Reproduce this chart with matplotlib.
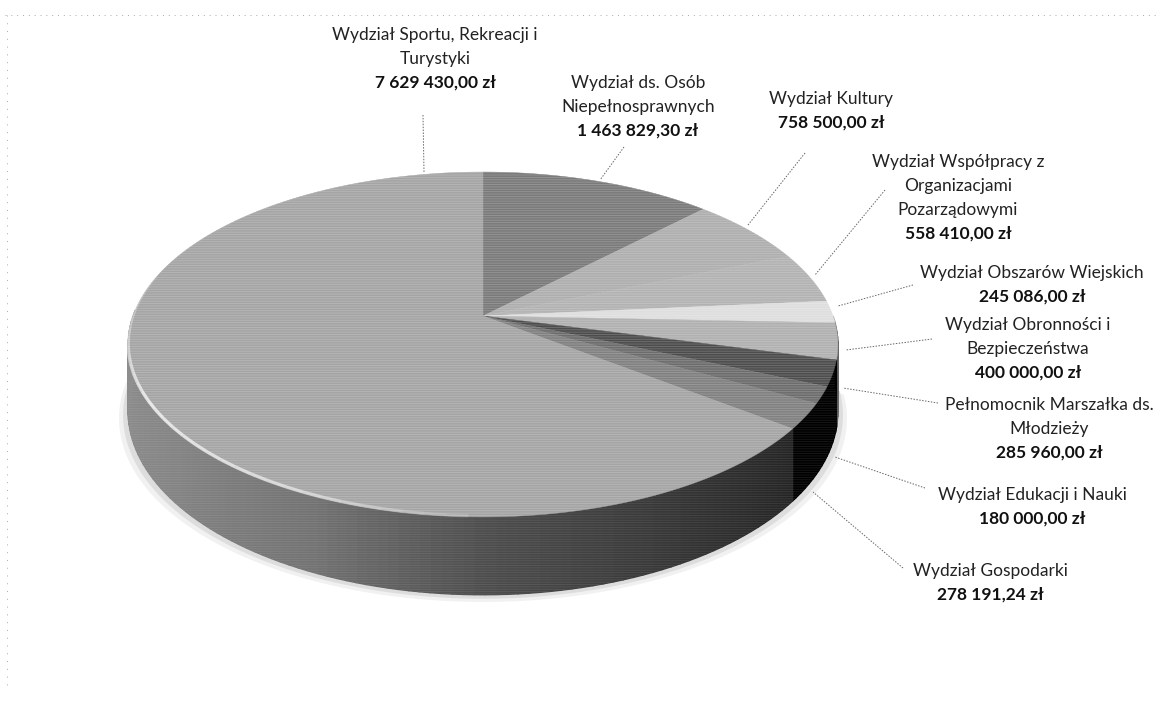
import numpy as np
import matplotlib
matplotlib.use("Agg")
import matplotlib.pyplot as plt
from matplotlib.patches import Polygon

NAMES = [
    "Wydział ds. Osób\nNiepełnosprawnych",
    "Wydział Kultury",
    "Wydział Współpracy z\nOrganizacjami\nPozarządowymi",
    "Wydział Obszarów Wiejskich",
    "Wydział Obronności i\nBezpieczeństwa",
    "Pełnomocnik Marszałka ds.\nMłodzieży",
    "Wydział Edukacji i Nauki",
    "Wydział Gospodarki",
    "Wydział Sportu, Rekreacji i\nTurystyki",
]
VALUES = [1463829.30, 758500.00, 558410.00, 245086.00, 400000.00,
          285960.00, 180000.00, 278191.24, 7629430.00]
AMOUNTS = ["1 463 829,30 zł", "758 500,00 zł", "558 410,00 zł", "245 086,00 zł",
           "400 000,00 zł", "285 960,00 zł", "180 000,00 zł", "278 191,24 zł",
           "7 629 430,00 zł"]
TOP_COLORS = ["#7a7a7a", "#aeaeae", "#b2b2b2", "#dedede", "#b0b0b0",
              "#4c4c4c", "#6c6c6c", "#808080", "#a4a4a4"]
SIDE_COLORS = ["#555555", "#777777", "#777777", "#999999", "#666666",
               "#000000", "#000000", "#000000", None]

# środek etykiety (x), górna linia (y), koniec linii odniesienia
LABEL_XY = [(638, 83), (831, 99), (958, 162), (1032, 273), (1028, 325),
            (1049, 405), (1032, 495), (990, 571), (435, 35)]
LEADERS = [((624, 147), (600, 180)), ((805, 153), (748, 225)), ((885, 190), (815, 275)),
           ((913, 285), (838, 306)), ((932, 339), (846, 350)), ((938, 403), (843, 388)),
           ((925, 488), (835, 457)), ((903, 568), (813, 492)), ((423, 115), (424, 172))]

CX, CY = 483, 316
RX = 350
K = 0.165
A = -115.6
DEPTH = 65


def project(deg, r=1.0):
    t = np.radians(deg)
    u, v = r * np.sin(t), r * np.cos(t)
    w = 1 + K * v
    return CX + RX * u / w, (A * v + CY) / w


def project_bottom(deg):
    x, y = project(deg)
    w = 1 + K * np.cos(np.radians(deg))
    return x, y + DEPTH / w


def sports_side_gray(deg):
    return np.interp(deg, [127, 150, 180, 205, 235, 270, 360],
                     [0.14, 0.20, 0.30, 0.45, 0.52, 0.56, 0.56])


plt.rcParams["font.family"] = ["Lato", "DejaVu Sans"]
plt.rcParams["hatch.linewidth"] = 0.6
fig = plt.figure(figsize=(11.62, 7.02), dpi=100)
ax = fig.add_axes([0, 0, 1, 1])
ax.set_xlim(0, 1162)
ax.set_ylim(702, 0)
ax.axis("off")

# ramka ze skanu
ax.plot([5, 1160], [15, 15], color="#aaaaaa", lw=0.7, ls=(0, (1, 5)))
ax.plot([7, 7], [15, 690], color="#aaaaaa", lw=0.7, ls=(0, (1, 7)))

edges = np.concatenate([[0], np.cumsum(VALUES)]) / np.sum(VALUES) * 360

# rozmyty cień pod spodem
front = np.linspace(92, 272, 120)
bx, by = project_bottom(front)
for off, col in [(9, "#f1f1f1"), (5, "#dddddd")]:
    ax.fill(np.r_[bx + (bx - CX) / RX * off, CX], np.r_[by + off * 0.8, CY],
            color=col, lw=0, zorder=1)

# ściana boczna
for i, (a0, a1) in enumerate(zip(edges[:-1], edges[1:])):
    lo, hi = max(a0, 90), min(a1, 272)
    if lo >= hi:
        continue
    steps = np.arange(lo, hi + 1.5, 1.5)
    steps[-1] = hi
    for s0, s1 in zip(steps[:-1], steps[1:]):
        if s0 >= s1:
            continue
        tx, ty = project(np.array([s0, s1]))
        dx, dy = project_bottom(np.array([s1, s0]))
        col = SIDE_COLORS[i]
        if col is None:
            col = str(sports_side_gray((s0 + s1) / 2))
        ax.fill(np.r_[tx, dx], np.r_[ty, dy], color=col, lw=1.0, ec=col, zorder=2)

# wierzch koła
for i, (a0, a1) in enumerate(zip(edges[:-1], edges[1:])):
    arc = np.linspace(a0, a1, max(int(a1 - a0) * 2, 6))
    px, py = project(arc)
    ax.fill(np.r_[CX, px], np.r_[CY, py], color=TOP_COLORS[i], lw=0.3, ec=TOP_COLORS[i], zorder=3)

# jasna krawędź
rim = np.arange(182, 285, 3.0)
for s0, s1 in zip(rim[:-1], rim[1:]):
    rx, ry = project(np.array([s0, s1]))
    alpha = np.interp(s0, [182, 205, 240, 285], [0.15, 0.55, 0.75, 0.05])
    ax.plot(rx, ry - 1, color="white", lw=2.4, alpha=alpha, solid_capstyle="butt", zorder=4)

# poziome prążki rastra ze skanu
full = np.linspace(0, 360, 361)
ox, oy = project(full)
ax.add_patch(Polygon(np.c_[ox, oy], closed=True, fill=False, lw=0,
                     hatch="-------", ec=(1, 1, 1, 0.22), zorder=4.5))
sx, sy = project(front)
dx, dy = project_bottom(front[::-1])
ax.add_patch(Polygon(np.c_[np.r_[sx, dx], np.r_[sy, dy]], closed=True, fill=False, lw=0,
                     hatch="-------", ec=(1, 1, 1, 0.10), zorder=2.5))

# linie odniesienia
for p0, p1 in LEADERS:
    ax.plot([p0[0], p1[0]], [p0[1], p1[1]], color="#666666", lw=0.7, ls=(0, (1.5, 1.5)), zorder=5)

# etykiety
LINE = 24
for name, amount, (x, y) in zip(NAMES, AMOUNTS, LABEL_XY):
    lines = name.split("\n")
    for j, line in enumerate(lines):
        ax.text(x, y + j * LINE, line, ha="center", va="center", fontsize=12.5,
                color="#222222", zorder=6)
    ax.text(x, y + len(lines) * LINE, amount, ha="center", va="center", fontsize=12.5,
            fontweight="bold", color="#111111", zorder=6)

fig.savefig("out.png", dpi=100)
plt.close(fig)
